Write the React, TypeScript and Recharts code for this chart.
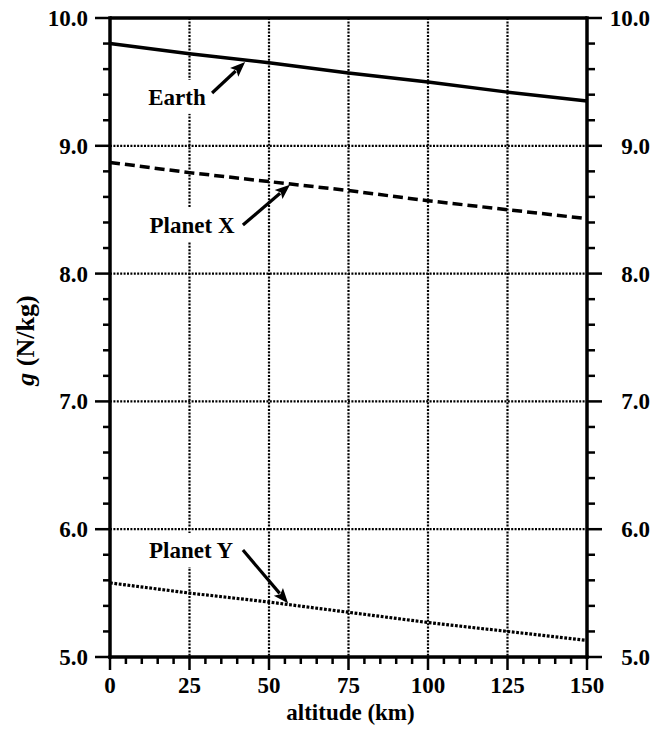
import React from 'react';
import { LineChart, Line, XAxis, YAxis, CartesianGrid, ReferenceLine, ReferenceArea } from 'recharts';

// ---- data ----
const altitudeKm = [0, 25, 50, 75, 100, 125, 150];
const earthG = [9.8, 9.72, 9.65, 9.57, 9.5, 9.42, 9.35];
const planetXG = [8.87, 8.79, 8.72, 8.65, 8.57, 8.5, 8.43];
const planetYG = [5.58, 5.5, 5.43, 5.35, 5.27, 5.2, 5.13];

// ---- axis ticks ----
const xTicks = [0, 5, 10, 15, 20, 25, 30, 35, 40, 45, 50, 55, 60, 65, 70, 75, 80, 85, 90, 95, 100, 105, 110, 115, 120, 125, 130, 135, 140, 145, 150];
const xMajorTicks = [0, 25, 50, 75, 100, 125, 150];
const yTicks = [5.0, 5.2, 5.4, 5.6, 5.8, 6.0, 6.2, 6.4, 6.6, 6.8, 7.0, 7.2, 7.4, 7.6, 7.8, 8.0, 8.2, 8.4, 8.6, 8.8, 9.0, 9.2, 9.4, 9.6, 9.8, 10.0];
const yMajorTicks = [5, 6, 7, 8, 9, 10];
const yMajorLabels = ['5.0', '6.0', '7.0', '8.0', '9.0', '10.0'];
const xGridValues = [25, 50, 75, 100, 125];
const yGridValues = [6, 7, 8, 9];

const xTitle = 'altitude (km)';
const yTitleSymbol = 'g';
const yTitleUnit = ' (N/kg)';

// ---- annotations (in data coordinates) ----
const annotationLabels = ['Earth', 'Planet X', 'Planet Y'];
const annotationBoxes = [
  { x1: 10.7, x2: 31.4, y1: 9.25, y2: 9.515 },
  { x1: 10.1, x2: 41.5, y1: 8.247, y2: 8.513 },
  { x1: 9.5, x2: 41.5, y1: 5.704, y2: 5.97 },
];
const annotationArrows = [
  [{ x: 32.1, y: 9.413 }, { x: 42.5, y: 9.655 }],
  [{ x: 41.8, y: 8.38 }, { x: 56.6, y: 8.695 }],
  [{ x: 41.8, y: 5.837 }, { x: 56.0, y: 5.42 }],
];

const data = altitudeKm.map((a, i) => ({
  altitude: a,
  earth: earthG[i],
  planetX: planetXG[i],
  planetY: planetYG[i],
}));

const FONT = "'Liberation Serif', 'Times New Roman', serif";
const fontStyle = { fontFamily: FONT, fontWeight: 700, fontSize: 23, fill: '#000' } as const;

const near = (a: number, b: number) => Math.abs(a - b) < 1e-6;
const yMajorIndex = (v: number) => yMajorTicks.findIndex((m) => near(m, v));
const xMajorIndex = (v: number) => xMajorTicks.findIndex((m) => near(m, v));

const LeftTick = (props: any) => {
  const { x, y, payload } = props;
  const idx = yMajorIndex(payload.value);
  const major = idx >= 0;
  return (
    <g>
      <line x1={x} x2={x - (major ? 15 : 7)} y1={y} y2={y} stroke="#000" strokeWidth={2.5} />
      {major && (
        <text x={x - 22} y={y + 8} textAnchor="end" style={fontStyle}>
          {yMajorLabels[idx]}
        </text>
      )}
    </g>
  );
};

const RightTick = (props: any) => {
  const { x, y, payload } = props;
  const idx = yMajorIndex(payload.value);
  const major = idx >= 0;
  return (
    <g>
      <line x1={x} x2={x + (major ? 15 : 8)} y1={y} y2={y} stroke="#000" strokeWidth={2.5} />
      {major && (
        <text x={x + 63} y={y + 8} textAnchor="end" style={fontStyle}>
          {yMajorLabels[idx]}
        </text>
      )}
    </g>
  );
};

const BottomTick = (props: any) => {
  const { x, y, payload } = props;
  const idx = xMajorIndex(payload.value);
  const major = idx >= 0;
  return (
    <g>
      <line x1={x} x2={x} y1={y} y2={y + (major ? 13 : 7)} stroke="#000" strokeWidth={2.5} />
      {major && (
        <text x={x} y={y + 36} textAnchor="middle" style={fontStyle}>
          {String(xMajorTicks[idx])}
        </text>
      )}
    </g>
  );
};

const XTitle = (props: any) => {
  const vb = props.viewBox || {};
  return (
    <text x={vb.x + vb.width / 2 + 2} y={vb.y + 63} textAnchor="middle" style={fontStyle}>
      {xTitle}
    </text>
  );
};

const YTitle = (props: any) => {
  const vb = props.viewBox || {};
  const cx = vb.x + 26;
  const cy = vb.y + vb.height / 2 + 3;
  return (
    <text x={cx} y={cy} textAnchor="middle" transform={`rotate(-90, ${cx}, ${cy})`} style={{ ...fontStyle, fontSize: 26 }}>
      <tspan fontStyle="italic">{yTitleSymbol}</tspan>
      <tspan>{yTitleUnit}</tspan>
    </text>
  );
};

const makeBoxShape = (label: string) => (props: any) => {
  const { x, y, width, height } = props;
  return (
    <g>
      <rect x={x} y={y} width={width} height={height} fill="#fff" stroke="none" />
      <text x={x + width / 2} y={y + height / 2 + 8} textAnchor="middle" style={fontStyle}>
        {label}
      </text>
    </g>
  );
};

const ArrowShape = (props: any) => {
  const { x1, y1, x2, y2 } = props;
  if ([x1, y1, x2, y2].some((v) => typeof v !== 'number' || isNaN(v))) return <g />;
  const dx = x2 - x1;
  const dy = y2 - y1;
  const len = Math.sqrt(dx * dx + dy * dy) || 1;
  const ux = dx / len;
  const uy = dy / len;
  const headLen = 15;
  const headHalf = 6;
  const bx = x2 - ux * headLen;
  const by = y2 - uy * headLen;
  const px = -uy;
  const py = ux;
  return (
    <g>
      <line x1={x1} y1={y1} x2={bx + ux * 2} y2={by + uy * 2} stroke="#000" strokeWidth={3.2} />
      <polygon
        points={`${x2},${y2} ${bx + px * headHalf},${by + py * headHalf} ${bx + ux * 3},${by + uy * 3} ${bx - px * headHalf},${by - py * headHalf}`}
        fill="#000"
      />
    </g>
  );
};

const axisLineStyle = { stroke: '#000', strokeWidth: 3.5, strokeLinecap: 'square' } as const;

export default function App() {
  return (
    <div style={{ width: 650, height: 728, marginTop: -8, background: '#fff' }}>
      <LineChart
        width={650}
        height={728}
        data={data}
        margin={{ top: 18, right: 0, left: 0, bottom: 0 }}
      >
        <CartesianGrid
          yAxisId="left"
          horizontalValues={yGridValues}
          verticalValues={xGridValues}
          stroke="#000"
          strokeWidth={2.2}
          strokeDasharray="2 1.4"
        />
        <XAxis
          dataKey="altitude"
          type="number"
          domain={[0, 150]}
          ticks={xTicks}
          interval={0}
          height={71}
          tickSize={0}
          tickMargin={0}
          tickLine={false}
          tick={<BottomTick />}
          axisLine={axisLineStyle}
          label={<XTitle />}
        />
        <YAxis
          yAxisId="left"
          orientation="left"
          type="number"
          domain={[5, 10]}
          ticks={yTicks}
          interval={0}
          width={102}
          tickSize={0}
          tickMargin={0}
          tickLine={false}
          tick={<LeftTick />}
          axisLine={axisLineStyle}
          label={<YTitle />}
        />
        <YAxis
          yAxisId="right"
          orientation="right"
          type="number"
          domain={[5, 10]}
          ticks={yTicks}
          interval={0}
          width={71}
          tickSize={0}
          tickMargin={0}
          tickLine={false}
          tick={<RightTick />}
          axisLine={axisLineStyle}
        />
        <ReferenceLine yAxisId="right" y={10} stroke="#000" strokeWidth={3.5} />
        {annotationBoxes.map((b, i) => (
          <ReferenceArea
            key={'box' + i}
            yAxisId="left"
            x1={b.x1}
            x2={b.x2}
            y1={b.y1}
            y2={b.y2}
            fillOpacity={1}
            shape={makeBoxShape(annotationLabels[i])}
          />
        ))}
        <Line
          yAxisId="right"
          dataKey="earth"
          stroke="#000"
          strokeWidth={3.5}
          dot={false}
          isAnimationActive={false}
          type="linear"
        />
        <Line
          yAxisId="left"
          dataKey="planetX"
          stroke="#000"
          strokeWidth={3.5}
          strokeDasharray="10 5"
          dot={false}
          isAnimationActive={false}
          type="linear"
        />
        <Line
          yAxisId="left"
          dataKey="planetY"
          stroke="#000"
          strokeWidth={3.2}
          strokeDasharray="2.8 1.6"
          dot={false}
          isAnimationActive={false}
          type="linear"
        />
        {annotationArrows.map((seg, i) => (
          <ReferenceLine
            key={'arrow' + i}
            yAxisId="left"
            segment={seg}
            ifOverflow="visible"
            shape={ArrowShape}
          />
        ))}
      </LineChart>
    </div>
  );
}
